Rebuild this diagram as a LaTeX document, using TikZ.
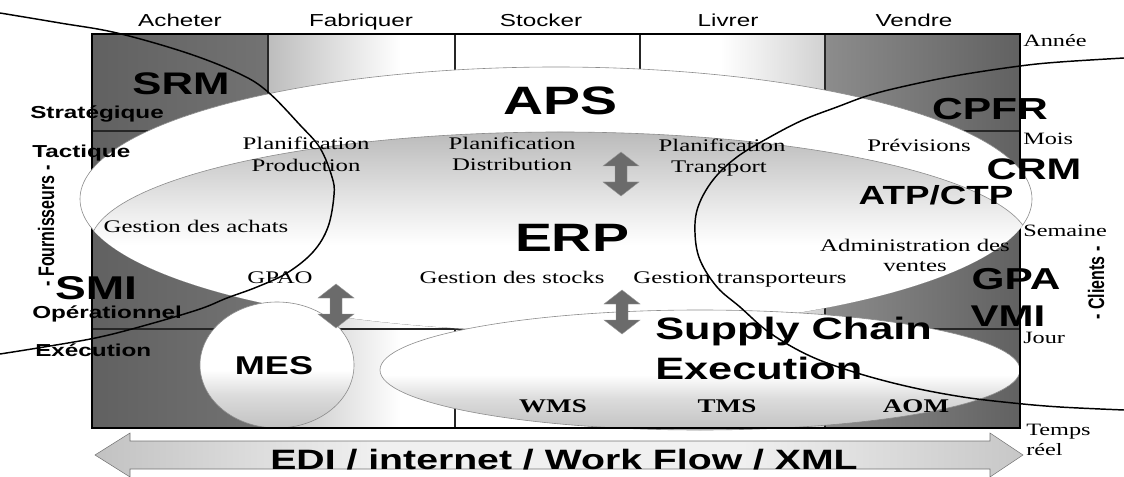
\documentclass[tikz,border=0pt]{standalone}
\usepackage{fontspec}
\setmainfont{Liberation Serif}
\newfontfamily\widesans[FakeStretch=1.4]{Liberation Sans}
\newfontfamily\wideserif[FakeStretch=1.4]{Liberation Serif}
\newfontfamily\plainsans{Liberation Sans}
% fills: grey top of the ERP band, grey lower halves of MES / SCE, the EDI bar
\pgfdeclareverticalshading{erpfade}{100bp}{color(0bp)=(white); color(50bp)=(white); color(58bp)=(black!8); color(68bp)=(black!19); color(75bp)=(black!27); color(100bp)=(black!27)}
\pgfdeclareverticalshading{lowfade}{100bp}{color(0bp)=(black!24); color(25bp)=(black!24); color(38bp)=(black!14); color(48bp)=(white); color(100bp)=(white)}
\pgfdeclarehorizontalshading{edifade}{100bp}{color(0bp)=(black!24); color(25bp)=(black!24); color(40bp)=(black!6); color(60bp)=(black!6); color(75bp)=(black!22); color(100bp)=(black!22)}
\begin{document}
\begin{tikzpicture}[x=0.75pt,y=-0.75pt,
  framel/.style={line width=1.1pt, black},
  gridl/.style={line width=1pt, black!85},
  rim/.style={draw=black!45, line width=0.45pt},
  arcl/.style={line width=1.1pt, black},
  hdr/.style={font=\widesans\fontsize{13}{15}\selectfont, inner sep=0pt, anchor=base},
  lvl/.style={font=\widesans\bfseries\fontsize{13}{15}\selectfont, inner sep=0pt, anchor=base west},
  tim/.style={font=\wideserif\fontsize{13}{15}\selectfont, inner sep=0pt, anchor=base west},
  sml/.style={font=\wideserif\fontsize{13.3}{15}\selectfont, inner sep=0pt, anchor=base},
  smb/.style={font=\wideserif\bfseries\fontsize{14.5}{16}\selectfont, inner sep=0pt, anchor=base},
  big/.style={font=\widesans\bfseries\fontsize{#1}{#1}\selectfont, inner sep=0pt, anchor=base},
  side/.style={font=\plainsans\bfseries\fontsize{12}{14}\selectfont, inner sep=0pt, rotate=90},
  darr/.style={fill=black!58, draw=black!40, line width=0.3pt},
  vdarrow/.pic={\path[darr] (0,-22) -- (18,-8) -- (6,-8) -- (6,8) -- (18,8) -- (0,22)
      -- (-18,8) -- (-6,8) -- (-6,-8) -- (-18,-8) -- cycle;},
]
\useasboundingbox (0,0) rectangle (1124,477);

% ---- column backgrounds of the grid ----
\shade[left color=black!62, right color=black!55] (92,34) rectangle (268,428);
\shade[left color=black!26, right color=white] (268,34) rectangle (400,428);
\fill[white] (400,34) rectangle (720,428);
\shade[left color=white, right color=black!18] (720,34) rectangle (825,428);
\shade[left color=black!45, right color=black!62] (825,34) rectangle (1020,428);

% ---- rows and columns ----
\foreach \yy in {131,230,329} \draw[gridl] (92,\yy) -- (1020,\yy);
\foreach \xx in {268,455,640,825} \draw[gridl] (\xx,34) -- (\xx,428);
\draw[framel] (92,34) rectangle (1020,428);

% ---- APS and ERP ----
\path[fill=white, rim] (556,199) ellipse [x radius=476, y radius=132];
\begin{scope}
  \clip (556,199) ellipse [x radius=476, y radius=132];
  \shadedraw[shading=erpfade, rim] (560,245) ellipse [x radius=470, y radius=113];
\end{scope}

% ---- MES and Supply Chain Execution ----
\shadedraw[shading=lowfade, rim] (277,365) ellipse [x radius=77, y radius=63];
\shadedraw[shading=lowfade, rim] (700,370) ellipse [x radius=320, y radius=60];
\draw[framel] (92,300) -- (92,428) -- (1020,428) -- (1020,300);

% ---- supplier side and customer side arcs ----
\draw[arcl] plot[smooth, tension=0.6] coordinates {(0,13) (60,23) (117,33) (187,53) (240,74)
  (268,92) (300,125) (320,148) (332,177) (334,195) (328,227) (313,252) (287,273) (257,287)
  (227,298) (200,309) (150,324) (100,337) (50,346) (0,354)};
\draw[arcl] plot[smooth, tension=0.6] coordinates {(1124,58) (1060,62) (1020,66) (960,75)
  (910,85) (870,95) (837,107) (803,120) (770,137) (737,157) (713,180) (698,207) (695,233)
  (700,260) (717,287) (740,307) (770,333) (810,356) (857,373) (910,387) (963,397) (1013,403)
  (1060,407) (1124,410)};

% ---- exchange arrows ----
\pic at (621,174) {vdarrow};
\pic at (336,306) {vdarrow};
\pic at (622,312) {vdarrow};
\shadedraw[shading=edifade, draw=black!55, line width=0.4pt]
  (95,455) -- (130,433) -- (130,441) -- (990,441) -- (990,433) -- (1023,455)
  -- (990,477) -- (990,469) -- (130,469) -- (130,477) -- cycle;

% ---- process headers ----
\node[hdr] (h1) at (180,27) {Acheter};
\node[hdr] (h2) at (361,27) {Fabriquer};
\node[hdr] (h3) at (541,27) {Stocker};
\node[hdr] (h4) at (728,27) {Livrer};
\node[hdr] (h5) at (914,27) {Vendre};

% ---- horizons ----
\node[tim] (t1) at (1023,47) {Année};
\node[tim] (t2) at (1023,145) {Mois};
\node[tim] (t3) at (1023,237) {Semaine};
\node[tim] (t4) at (1023,343) {Jour};
\node[tim] (t5) at (1026,435) {Temps};
\node[tim] (t6) at (1026,455) {réel};

% ---- decision levels ----
\node[lvl] (l1) at (30,119) {Stratégique};
\node[lvl] (l2) at (32,158) {Tactique};
\node[lvl] (l3) at (32,319) {Opérationnel};
\node[lvl] (l4) at (35,356) {Exécution};
\node[side] (fo) at (46,226) {\scalebox{1}[1.4]{- Fournisseurs -}};
\node[side] (cl) at (1096,283) {\scalebox{1}[1.4]{- Clients -}};

% ---- systems ----
\node[big=23.4] (srm) at (181,95) {SRM};
\node[big=29.7] (aps) at (560,115) {APS};
\node[big=22.8] (cpfr) at (990,120) {CPFR};
\node[big=22.3] (crm) at (1034,180) {CRM};
\node[big=19.7] (atp) at (936,205) {ATP/CTP};
\node[big=29.7] (erp) at (572,252) {ERP};
\node[big=24.7] (smi) at (96,300) {SMI};
\node[big=22.7] (gpa) at (1016,290) {GPA};
\node[big=22.5] (vmi) at (1008,326) {VMI};
\node[big=19.3] (mes) at (274,374) {MES};
\node[big=23.2, anchor=base west] (sc1) at (655,339) {Supply Chain};
\node[big=23.2, anchor=base west] (sc2) at (655,379) {Execution};
\node[big=21] (edi) at (564,469) {EDI / internet / Work Flow / XML};

% ---- functions ----
\node[sml] (pp1) at (306,150) {Planification};
\node[sml] (pp2) at (306,172) {Production};
\node[sml] (pd1) at (512,150) {Planification};
\node[sml] (pd2) at (512,171) {Distribution};
\node[sml] (pt1) at (722,152) {Planification};
\node[sml] (pt2) at (719,173) {Transport};
\node[sml] (prev) at (919,152) {Prévisions};
\node[sml] (gach) at (196,233) {Gestion des achats};
\node[sml] (adv1) at (915,252) {Administration des};
\node[sml] (adv2) at (915,272) {ventes};
\node[sml] (gpao) at (280,283) {GPAO};
\node[sml] (gsto) at (512,283) {Gestion des stocks};
\node[sml] (gtra) at (740,283) {Gestion transporteurs};
\node[smb] (wms) at (553,412) {WMS};
\node[smb] (tms) at (727,412) {TMS};
\node[smb] (aom) at (916,412) {AOM};
\end{tikzpicture}
\end{document}
